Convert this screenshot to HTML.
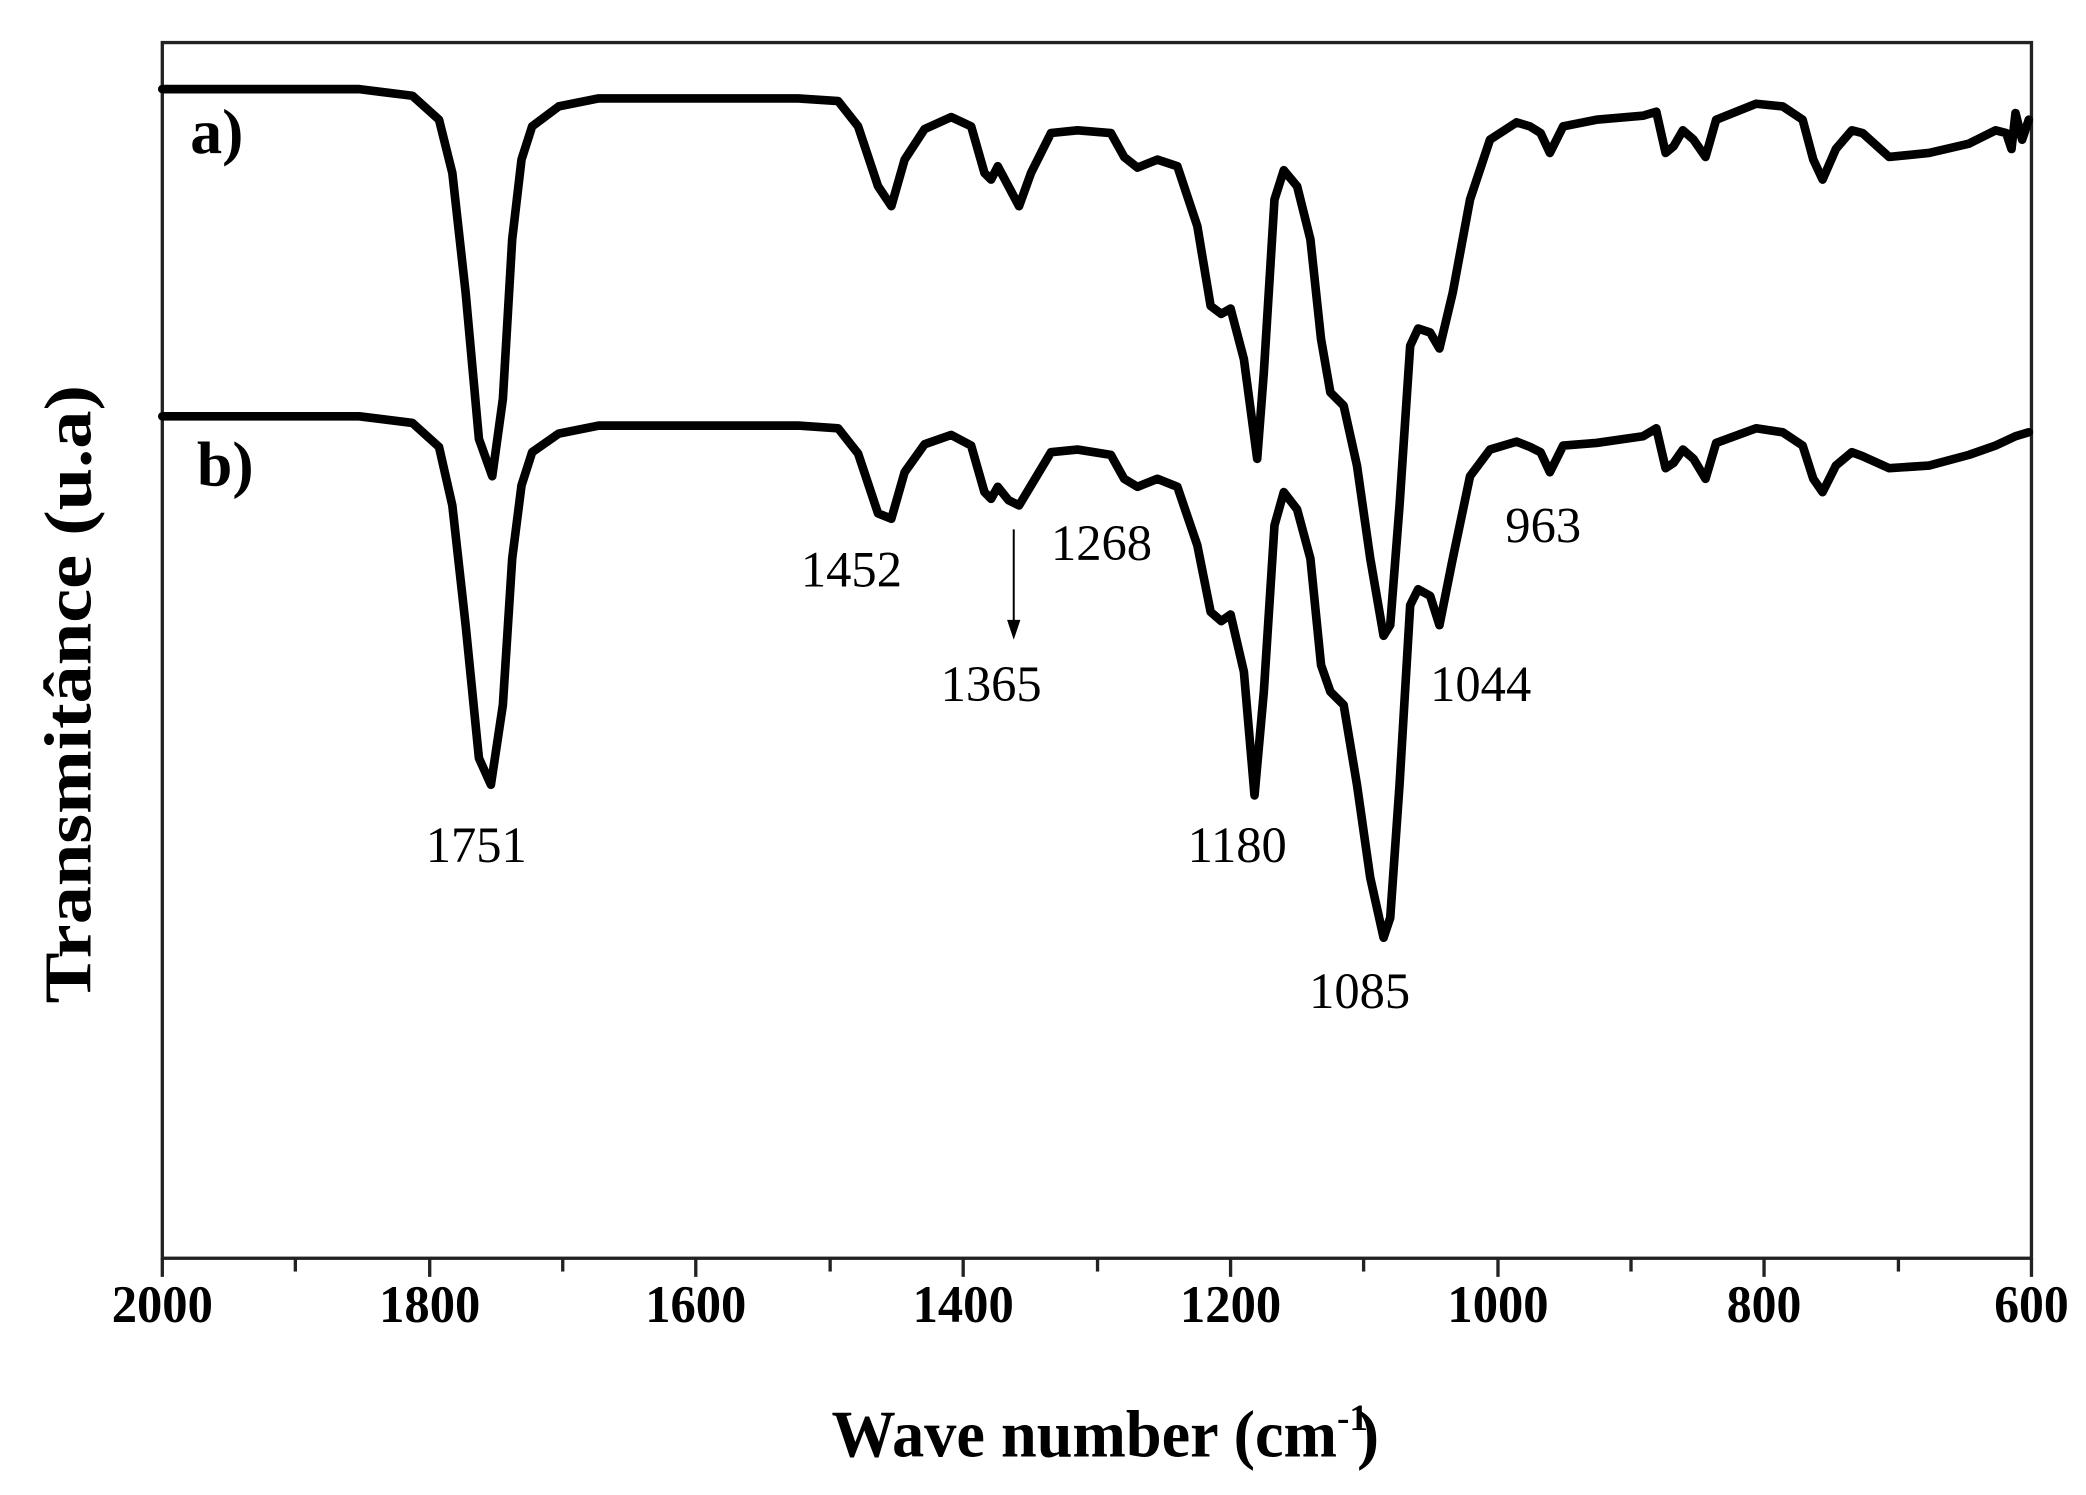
<!DOCTYPE html>
<html><head><meta charset="utf-8"><style>
html,body{margin:0;padding:0;background:#fff;}
svg{display:block;}
text{font-family:"Liberation Serif",serif;fill:#000;}
</style></head><body>
<svg width="2086" height="1495" viewBox="0 0 1568 1124" preserveAspectRatio="none" xmlns="http://www.w3.org/2000/svg">
<rect x="122" y="32" width="1405" height="914" fill="none" stroke="#222" stroke-width="2.5"/>
<g stroke="#222" stroke-width="2.5">
<line x1="122" y1="946" x2="122" y2="960"/>
<line x1="222" y1="946" x2="222" y2="956"/>
<line x1="323" y1="946" x2="323" y2="960"/>
<line x1="423" y1="946" x2="423" y2="956"/>
<line x1="523" y1="946" x2="523" y2="960"/>
<line x1="624" y1="946" x2="624" y2="956"/>
<line x1="724" y1="946" x2="724" y2="960"/>
<line x1="825" y1="946" x2="825" y2="956"/>
<line x1="925" y1="946" x2="925" y2="960"/>
<line x1="1025" y1="946" x2="1025" y2="956"/>
<line x1="1126" y1="946" x2="1126" y2="960"/>
<line x1="1226" y1="946" x2="1226" y2="956"/>
<line x1="1326" y1="946" x2="1326" y2="960"/>
<line x1="1427" y1="946" x2="1427" y2="956"/>
<line x1="1527" y1="946" x2="1527" y2="960"/>
</g>
<g font-size="40" font-weight="bold" text-anchor="middle">
<text x="122" y="994" textLength="76" lengthAdjust="spacingAndGlyphs">2000</text>
<text x="323" y="994" textLength="76" lengthAdjust="spacingAndGlyphs">1800</text>
<text x="523" y="994" textLength="76" lengthAdjust="spacingAndGlyphs">1600</text>
<text x="724" y="994" textLength="76" lengthAdjust="spacingAndGlyphs">1400</text>
<text x="925" y="994" textLength="76" lengthAdjust="spacingAndGlyphs">1200</text>
<text x="1126" y="994" textLength="76" lengthAdjust="spacingAndGlyphs">1000</text>
<text x="1326" y="994" textLength="56" lengthAdjust="spacingAndGlyphs">800</text>
<text x="1527" y="994" textLength="56" lengthAdjust="spacingAndGlyphs">600</text>
</g>
<text x="625" y="1095" font-size="50" font-weight="bold" textLength="380" lengthAdjust="spacingAndGlyphs">Wave number (cm</text>
<text x="1005" y="1075" font-size="28" font-weight="bold">-1</text>
<text x="1020" y="1095" font-size="50" font-weight="bold">)</text>
<text transform="translate(68,522) rotate(-90)" font-size="50" font-weight="bold" text-anchor="middle" textLength="465" lengthAdjust="spacingAndGlyphs">Transmitânce (u.a)</text>
<g fill="none" stroke="#000" stroke-width="6.5" stroke-linejoin="round" stroke-linecap="round">
<polyline points="122,67 270,67 310,72 330,90 340,130 350,220 360,330 370,358 378,300 385,180 392,120 400,95 420,80 450,74 540,74 600,74 630,76 645,95 660,140 670,155 680,120 695,97 715,88 730,95 740,130 745,135 750,125 758,140 766,155 775,130 790,100 810,98 835,100 845,118 855,126 870,120 885,125 900,170 910,230 918,236 925,232 935,270 945,345 950,280 958,150 965,128 975,140 985,180 993,255 1000,295 1010,305 1020,350 1030,420 1040,478 1045,470 1052,380 1060,260 1066,247 1075,250 1082,262 1092,220 1105,150 1120,105 1140,92 1150,95 1158,100 1165,115 1175,95 1200,90 1235,87 1245,84 1252,115 1258,110 1265,98 1273,105 1282,118 1290,90 1320,78 1340,80 1355,90 1363,120 1370,135 1380,112 1392,98 1400,100 1420,118 1450,115 1480,108 1500,98 1508,100 1512,112 1515,85 1520,105 1525,90"/>
<polyline points="122,313 270,313 310,318 330,336 340,380 350,470 360,570 369,590 378,530 385,420 392,365 400,340 420,326 450,320 540,320 600,320 630,322 645,341 660,386 670,390 680,355 695,334 715,327 730,335 740,370 745,375 750,366 758,376 766,380 775,365 790,340 810,338 835,342 845,360 855,366 870,360 885,366 900,410 910,460 918,467 925,462 935,505 943,598 950,520 958,395 965,370 975,383 985,420 993,500 1000,520 1010,530 1020,590 1030,660 1040,705 1045,690 1052,590 1060,455 1066,443 1075,448 1082,470 1092,420 1105,358 1120,338 1140,332 1150,336 1158,340 1165,355 1175,335 1200,333 1235,328 1245,322 1252,352 1258,348 1265,338 1273,345 1282,360 1290,333 1320,322 1340,325 1355,335 1363,360 1370,370 1380,350 1392,340 1400,343 1420,352 1450,350 1480,342 1500,335 1515,328 1525,325"/>
</g>
<text x="143" y="115" font-size="48" font-weight="bold">a)</text>
<text x="148" y="365" font-size="48" font-weight="bold">b)</text>
<g font-size="38" text-anchor="middle">
<text x="358" y="648">1751</text>
<text x="640" y="441">1452</text>
<text x="745" y="527">1365</text>
<text x="828" y="421">1268</text>
<text x="930" y="648">1180</text>
<text x="1022" y="758">1085</text>
<text x="1113" y="527">1044</text>
<text x="1160" y="408">963</text>
</g>
<line x1="762" y1="398" x2="762" y2="470" stroke="#000" stroke-width="1.5"/>
<polygon points="757,466 767,466 762,481" fill="#000"/>
</svg>
</body></html>
